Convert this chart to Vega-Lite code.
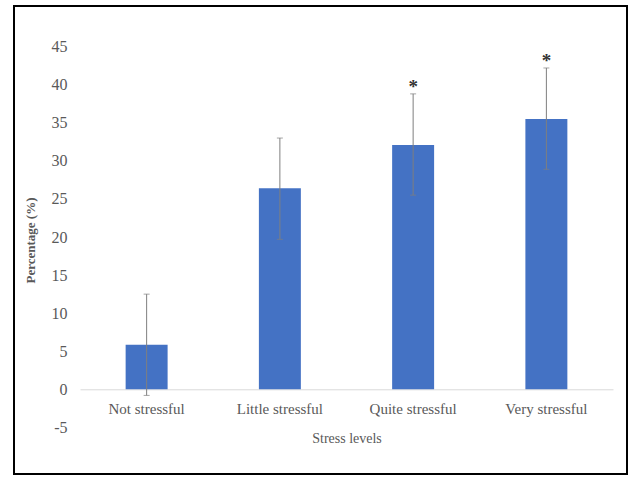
{
  "$schema": "https://vega.github.io/schema/vega-lite/v6.json",
  "width": 613,
  "height": 468,
  "autosize": {"type": "none"},
  "padding": {"left": 14, "top": 6, "right": 5, "bottom": 3},
  "background": "white",
  "config": {
    "view": {"stroke": "black", "strokeWidth": 2},
    "font": "Liberation Serif, serif"
  },
  "data": {
    "values": [
      {"level": "Not stressful", "pct": 5.86, "lower": -0.8, "upper": 12.5, "sig": ""},
      {"level": "Little stressful", "pct": 26.4, "lower": 19.7, "upper": 33.0, "sig": ""},
      {"level": "Quite stressful", "pct": 32.1, "lower": 25.5, "upper": 38.8, "sig": "*"},
      {"level": "Very stressful", "pct": 35.5, "lower": 28.9, "upper": 42.2, "sig": "*"}
    ]
  },
  "encoding": {
    "x": {
      "field": "level",
      "type": "nominal",
      "sort": null,
      "scale": {"range": [66, 599], "paddingInner": 0.685, "paddingOuter": 0.3425},
      "axis": {
        "orient": "bottom",
        "offset": -84.7,
        "title": "Stress levels",
        "labelAngle": 0,
        "ticks": false,
        "domainColor": "#d9d9d9",
        "domainWidth": 1,
        "labelColor": "#595959",
        "labelFontSize": 15,
        "labelPadding": 12,
        "labelFont": "Liberation Serif, serif",
        "titleFont": "Liberation Serif, serif",
        "titleFontSize": 14,
        "titleFontWeight": "normal",
        "titleColor": "#595959",
        "titlePadding": 15
      }
    }
  },
  "layer": [
    {
      "mark": {"type": "bar", "color": "#4472C4"},
      "encoding": {
        "y": {
          "field": "pct",
          "type": "quantitative",
          "title": "Percentage (%)",
          "scale": {"domain": [-11.12, 50.34], "nice": false, "zero": false},
          "axis": {
            "orient": "left",
            "offset": -53,
            "ticks": false,
            "domain": false,
            "grid": false,
            "values": [-5, 0, 5, 10, 15, 20, 25, 30, 35, 40, 45],
            "labelExpr": "replace(datum.label, '\u2212', '-')",
            "labelPadding": 0,
            "labelColor": "#595959",
            "labelFontSize": 16,
            "labelFont": "Liberation Serif, serif",
            "title": "Percentage (%)",
            "titleFont": "Liberation Serif, serif",
            "titleFontSize": 13,
            "titleFontWeight": "bold",
            "titleColor": "#595959",
            "titlePadding": 14
          }
        },
        "y2": {"datum": 0}
      }
    },
    {
      "mark": {"type": "rule", "color": "#7f7f7f", "strokeWidth": 1},
      "encoding": {
        "y": {"field": "lower", "type": "quantitative", "title": "Percentage (%)"},
        "y2": {"field": "upper"}
      }
    },
    {
      "mark": {"type": "tick", "color": "#7f7f7f", "size": 6, "thickness": 1, "orient": "horizontal"},
      "encoding": {
        "y": {"field": "upper", "type": "quantitative", "title": "Percentage (%)"}
      }
    },
    {
      "mark": {"type": "tick", "color": "#7f7f7f", "size": 6, "thickness": 1, "orient": "horizontal"},
      "encoding": {
        "y": {"field": "lower", "type": "quantitative", "title": "Percentage (%)"}
      }
    },
    {
      "mark": {"type": "text", "font": "Liberation Serif, serif", "fontSize": 19, "fontWeight": "bold", "color": "#333333", "baseline": "alphabetic", "dy": -1},
      "encoding": {
        "y": {"field": "upper", "type": "quantitative", "title": "Percentage (%)"},
        "text": {"field": "sig"}
      }
    }
  ]
}
